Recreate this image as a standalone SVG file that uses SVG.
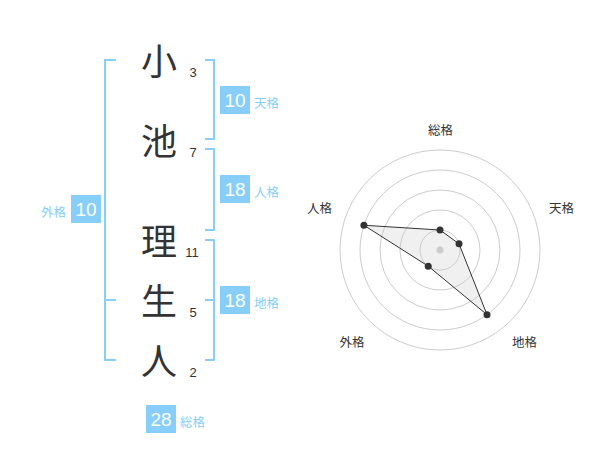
<svg xmlns="http://www.w3.org/2000/svg" width="600" height="470" viewBox="0 0 600 470">
<style>
.ch{font-family:"Noto Sans CJK JP","Noto Sans CJK SC",sans-serif;font-size:36px;fill:#333;text-anchor:middle}
.num{font-family:"Liberation Sans",Arial,sans-serif;font-size:13px;fill:#333;text-anchor:middle}
.br{fill:none;stroke:#87CEFA;stroke-width:2}
.box{fill:#87CEFA}
.bv{font-family:"Liberation Sans",Arial,sans-serif;font-size:19px;fill:#fff;text-anchor:middle}
.lb{font-family:"Noto Sans CJK JP","Noto Sans CJK SC",sans-serif;font-size:12.5px;fill:#87CEFA}
.ring{fill:none;stroke:#ccc;stroke-width:1}
.rl{font-family:"Noto Sans CJK JP","Noto Sans CJK SC",sans-serif;font-size:12.5px;fill:#333;text-anchor:middle}
.dot{fill:#333}
</style>
<rect width="600" height="470" fill="#fff"/>
<g id="chars">
<g id="c1"><text class="ch" x="159" y="75">小</text><text class="num" x="193" y="77">3</text></g>
<g id="c2"><text class="ch" x="159" y="155">池</text><text class="num" x="193" y="157">7</text></g>
<g id="c3"><text class="ch" x="159" y="255">理</text><text class="num" x="192" y="257">11</text></g>
<g id="c4"><text class="ch" x="159" y="315">生</text><text class="num" x="193" y="317">5</text></g>
<g id="c5"><text class="ch" x="159" y="375">人</text><text class="num" x="193" y="377">2</text></g>
</g>
<g id="connectors">
<path class="br" d="M116,60 H105 V360 H116 M105,300 H116"/>
<path class="br" d="M205,60 H214 V139 H205"/>
<path class="br" d="M205,149 H214 V230 H205"/>
<path class="br" d="M205,240 H214 V360 H205 M205,300 H214"/>
</g>
<g id="tenkaku"><rect class="box" x="220" y="86" width="30" height="28"/><text class="bv" x="235" y="107">10</text><text class="lb" x="254" y="108">天格</text></g>
<g id="jinkaku"><rect class="box" x="220" y="175" width="30" height="28"/><text class="bv" x="235" y="196">18</text><text class="lb" x="254" y="197">人格</text></g>
<g id="chikaku"><rect class="box" x="220" y="286" width="30" height="28"/><text class="bv" x="235" y="307">18</text><text class="lb" x="254" y="308">地格</text></g>
<g id="gaikaku"><rect class="box" x="71" y="195" width="30" height="28"/><text class="bv" x="86" y="216">10</text><text class="lb" x="66" y="217" text-anchor="end">外格</text></g>
<g id="soukaku"><rect class="box" x="146" y="405" width="30" height="28"/><text class="bv" x="161" y="426">28</text><text class="lb" x="180" y="427">総格</text></g>
<g id="radar">
<polygon points="440,230 459.02,243.82 487.02,314.72 428.24,266.18 363.92,225.28" fill="#e6e6e6" fill-opacity="0.6"/>
<circle class="ring" cx="440" cy="250" r="20"/>
<circle class="ring" cx="440" cy="250" r="40"/>
<circle class="ring" cx="440" cy="250" r="60"/>
<circle class="ring" cx="440" cy="250" r="80"/>
<circle class="ring" cx="440" cy="250" r="100"/>
<circle cx="440" cy="250" r="3.5" fill="#ccc"/>
<polygon points="440,230 459.02,243.82 487.02,314.72 428.24,266.18 363.92,225.28" fill="none" stroke="#333" stroke-width="1"/>
<circle class="dot" cx="440" cy="230" r="3.5"/>
<circle class="dot" cx="459.02" cy="243.82" r="3.5"/>
<circle class="dot" cx="487.02" cy="314.72" r="3.5"/>
<circle class="dot" cx="428.24" cy="266.18" r="3.5"/>
<circle class="dot" cx="363.92" cy="225.28" r="3.5"/>
<text class="rl" x="440.5" y="135">総格</text>
<text class="rl" x="561.5" y="213">天格</text>
<text class="rl" x="319.5" y="213">人格</text>
<text class="rl" x="352" y="347">外格</text>
<text class="rl" x="524.5" y="347">地格</text>
</g>
</svg>
